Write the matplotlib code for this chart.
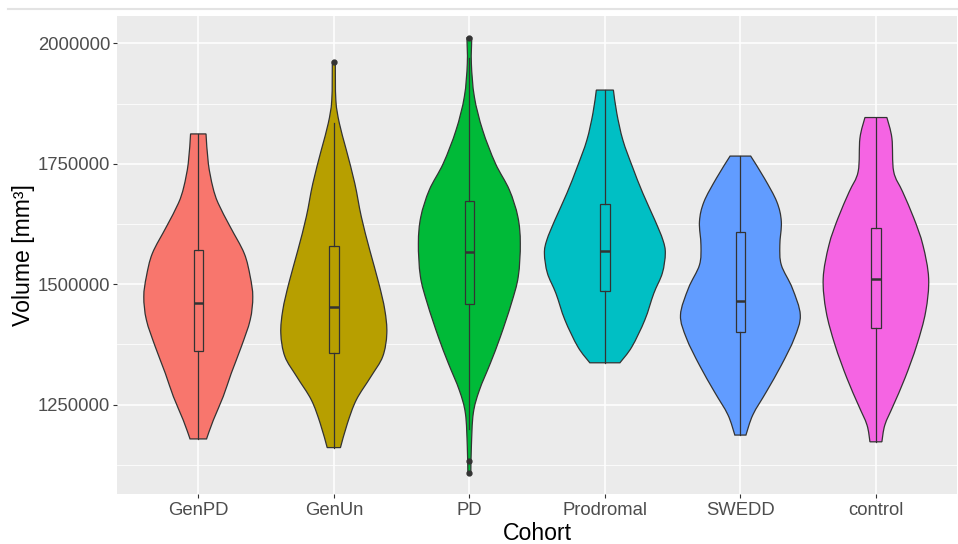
import numpy as np
import matplotlib.pyplot as plt
from matplotlib.lines import Line2D
from matplotlib.path import Path
from matplotlib.patches import PathPatch
from matplotlib.ticker import FixedLocator

plt.rcParams['font.family'] = ['Liberation Sans', 'DejaVu Sans']

# コホート名と色
cohorts = ['GenPD', 'GenUn', 'PD', 'Prodromal', 'SWEDD', 'control']
colors = ['#F8766D', '#B79F00', '#00BA38', '#00BFC4', '#619CFF', '#F564E3']

# バイオリンの輪郭（値, 半幅[カテゴリ単位]）上から下へ
genpd_vals = [1812000, 1751000, 1702000, 1668000, 1619000, 1564000, 1516000,
              1474000, 1426000, 1370000, 1315000, 1267000, 1218000, 1179000]
genpd_hw = [0.057, 0.074, 0.107, 0.147, 0.236, 0.339, 0.383,
            0.402, 0.383, 0.317, 0.243, 0.184, 0.111, 0.061]

genun_vals = [1962000, 1882000, 1834000, 1779000, 1709000, 1640000, 1571000, 1502000,
              1447000, 1398000, 1350000, 1308000, 1260000, 1211000, 1161000]
genun_hw = [0.011, 0.015, 0.041, 0.092, 0.155, 0.203, 0.265, 0.332,
            0.376, 0.391, 0.361, 0.273, 0.166, 0.100, 0.049]

pd_vals = [2012000, 1958000, 1889000, 1820000, 1751000, 1696000, 1640000, 1585000,
           1516000, 1460000, 1391000, 1336000, 1280000, 1232000, 1163000, 1108000]
pd_hw = [0.018, 0.015, 0.037, 0.098, 0.192, 0.295, 0.358, 0.376,
         0.361, 0.310, 0.229, 0.155, 0.074, 0.029, 0.015, 0.011]

prod_vals = [1903000, 1855000, 1799000, 1744000, 1689000, 1633000, 1592000,
             1564000, 1523000, 1481000, 1426000, 1370000, 1337000]
prod_hw = [0.063, 0.088, 0.133, 0.203, 0.280, 0.369, 0.428,
           0.446, 0.424, 0.361, 0.295, 0.199, 0.111]

swedd_vals = [1766000, 1720000, 1671000, 1630000, 1581000, 1540000, 1492000,
              1436000, 1388000, 1332000, 1277000, 1229000, 1187000]
swedd_hw = [0.076, 0.177, 0.269, 0.302, 0.291, 0.302, 0.383,
            0.442, 0.398, 0.302, 0.192, 0.092, 0.041]

control_vals = [1846000, 1803000, 1734000, 1692000, 1637000, 1581000, 1512000,
                1443000, 1374000, 1305000, 1249000, 1208000, 1173000]
control_hw = [0.081, 0.118, 0.131, 0.197, 0.280, 0.347, 0.389,
              0.367, 0.302, 0.214, 0.129, 0.066, 0.044]

violin_vals = [genpd_vals, genun_vals, pd_vals, prod_vals, swedd_vals, control_vals]
violin_hw = [genpd_hw, genun_hw, pd_hw, prod_hw, swedd_hw, control_hw]

# 箱ひげ図の統計量
whisker_lo = [1179000, 1161000, 1199000, 1337000, 1187000, 1173000]
q1 = [1362000, 1357000, 1459000, 1487000, 1400000, 1410000]
medians = [1462000, 1453000, 1566000, 1570000, 1465000, 1511000]
q3 = [1572000, 1579000, 1673000, 1666000, 1608000, 1617000]
whisker_hi = [1812000, 1835000, 1969000, 1903000, 1766000, 1846000]
outliers = [[], [1962000], [2012000, 1133000, 1108000], [], [], []]


# 輪郭を滑らかな曲線で描く（Catmull-Rom → ベジェ）
def smooth_side(xs, ys):
    pts = np.column_stack([xs, ys])
    n = len(pts)
    verts, codes = [], []
    for i in range(n - 1):
        p0 = pts[max(i - 1, 0)]
        p1 = pts[i]
        p2 = pts[i + 1]
        p3 = pts[min(i + 2, n - 1)]
        c1 = p1 + (p2 - p0) / 6.0
        c2 = p2 - (p3 - p1) / 6.0
        verts += [tuple(c1), tuple(c2), tuple(p2)]
        codes += [Path.CURVE4] * 3
    return verts, codes


def violin_patch(pos, vals, hw, col):
    vals = np.array(vals, dtype=float)
    hw = np.array(hw)
    left_x = pos - hw
    right_x = (pos + hw)[::-1]
    right_y = vals[::-1]
    verts = [(left_x[0], vals[0])]
    codes = [Path.MOVETO]
    v, c = smooth_side(left_x, vals)
    verts += v
    codes += c
    verts.append((right_x[0], right_y[0]))
    codes.append(Path.LINETO)
    v, c = smooth_side(right_x, right_y)
    verts += v
    codes += c
    verts.append((left_x[0], vals[0]))
    codes.append(Path.CLOSEPOLY)
    return PathPatch(Path(verts, codes), facecolor=col, edgecolor='#333333',
                     linewidth=0.9, zorder=2)


fig = plt.figure(figsize=(9.58, 5.44), dpi=100)
ax = fig.add_axes([0.1221, 0.0928, 0.8771, 0.8783])
ax.set_facecolor('#EBEBEB')

positions = np.arange(1, len(cohorts) + 1)

# バイオリンを描画
for pos, vals, hw, col in zip(positions, violin_vals, violin_hw, colors):
    ax.add_patch(violin_patch(pos, vals, hw, col))

# 箱ひげ図
stats = []
for i in range(len(cohorts)):
    stats.append(dict(med=medians[i], q1=q1[i], q3=q3[i],
                      whislo=whisker_lo[i], whishi=whisker_hi[i],
                      fliers=outliers[i]))
bp = ax.bxp(stats, positions=positions, widths=0.07, patch_artist=True,
            showcaps=False, zorder=3,
            boxprops=dict(edgecolor='#333333', linewidth=0.9),
            whiskerprops=dict(color='#333333', linewidth=0.9),
            medianprops=dict(color='#333333', linewidth=1.8),
            flierprops=dict(marker='o', markerfacecolor='#333333',
                            markeredgecolor='#333333', markersize=3.5))
for patch, col in zip(bp['boxes'], colors):
    patch.set_facecolor(col)

# 軸の設定
ax.set_xlim(0.4, 6.6)
ax.set_ylim(1065700, 2057300)
ax.set_xticks(positions)
ax.set_xticklabels(cohorts)
yt = [1250000, 1500000, 1750000, 2000000]
ax.set_yticks(yt)
ax.set_yticklabels([str(v) for v in yt])
ax.yaxis.set_minor_locator(FixedLocator([1125000, 1375000, 1625000, 1875000]))

ax.grid(True, which='major', color='white', linewidth=1.1, zorder=0)
ax.grid(True, which='minor', axis='y', color='white', linewidth=0.55, zorder=0)
ax.set_axisbelow(True)
for s in ax.spines.values():
    s.set_visible(False)

ax.tick_params(axis='both', which='major', length=3, width=0.8, color='#333333',
               labelsize=13.3, labelcolor='#4D4D4D')
ax.tick_params(axis='x', pad=3)
ax.tick_params(axis='y', pad=2)
ax.tick_params(axis='y', which='minor', length=0)

ax.set_xlabel('Cohort', fontsize=16.6, color='black', labelpad=2)
ax.set_ylabel('Volume [mm³]', fontsize=16.6, color='black', labelpad=2)

# 上部の薄い線
fig.add_artist(Line2D([8 / 958, 1], [1 - 9 / 544, 1 - 9 / 544],
                      color='#E3E3E3', linewidth=1.5))

fig.savefig('out.png', dpi=100)
